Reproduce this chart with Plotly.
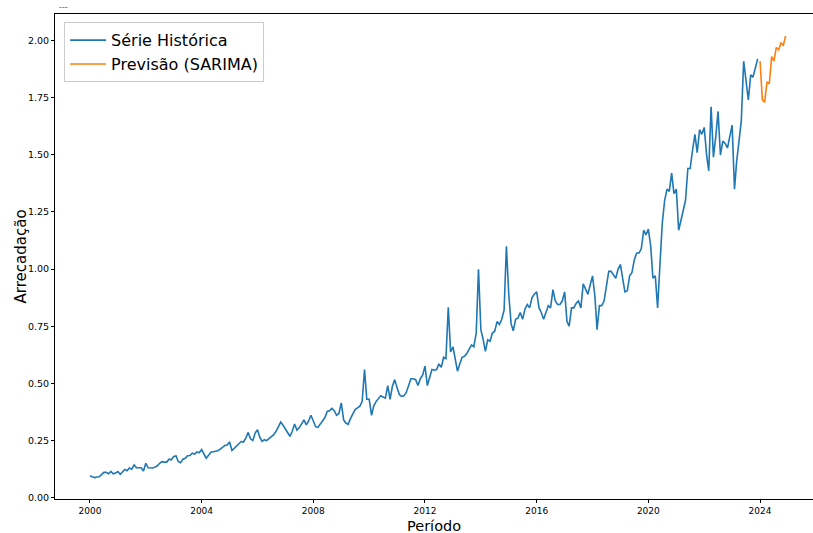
import pandas as pd
import plotly.graph_objects as go

# Monthly historical series (Jan 2000 - Dec 2023), one list per year
y2000 = [0.095, 0.089, 0.087, 0.090, 0.091, 0.100, 0.110, 0.110, 0.104, 0.114, 0.104, 0.107]
y2001 = [0.114, 0.102, 0.110, 0.123, 0.117, 0.129, 0.124, 0.143, 0.130, 0.129, 0.130, 0.116]
y2002 = [0.150, 0.130, 0.129, 0.129, 0.133, 0.139, 0.150, 0.157, 0.155, 0.155, 0.168, 0.165]
y2003 = [0.180, 0.182, 0.158, 0.152, 0.168, 0.172, 0.183, 0.184, 0.194, 0.190, 0.200, 0.196]
y2004 = [0.210, 0.190, 0.172, 0.185, 0.198, 0.200, 0.201, 0.205, 0.212, 0.218, 0.228, 0.230]
y2005 = [0.243, 0.206, 0.216, 0.224, 0.236, 0.245, 0.243, 0.260, 0.285, 0.257, 0.250, 0.282]
y2006 = [0.297, 0.263, 0.246, 0.253, 0.249, 0.257, 0.268, 0.275, 0.290, 0.310, 0.330, 0.316]
y2007 = [0.300, 0.280, 0.268, 0.290, 0.322, 0.295, 0.305, 0.322, 0.340, 0.318, 0.335, 0.360]
y2008 = [0.330, 0.310, 0.307, 0.320, 0.335, 0.350, 0.377, 0.380, 0.390, 0.380, 0.360, 0.368]
y2009 = [0.414, 0.340, 0.326, 0.320, 0.345, 0.367, 0.385, 0.392, 0.400, 0.420, 0.560, 0.430]
y2010 = [0.430, 0.360, 0.400, 0.420, 0.430, 0.445, 0.440, 0.435, 0.490, 0.430, 0.487, 0.516]
y2011 = [0.480, 0.450, 0.443, 0.445, 0.460, 0.490, 0.520, 0.520, 0.516, 0.490, 0.520, 0.535]
y2012 = [0.575, 0.490, 0.530, 0.560, 0.557, 0.560, 0.585, 0.570, 0.614, 0.608, 0.833, 0.637]
y2013 = [0.660, 0.596, 0.553, 0.585, 0.614, 0.618, 0.630, 0.650, 0.668, 0.660, 0.720, 0.999]
y2014 = [0.735, 0.690, 0.640, 0.690, 0.684, 0.720, 0.728, 0.770, 0.757, 0.780, 0.820, 1.100]
y2015 = [0.890, 0.760, 0.730, 0.780, 0.785, 0.810, 0.780, 0.825, 0.845, 0.830, 0.875, 0.890]
y2016 = [0.900, 0.830, 0.810, 0.780, 0.810, 0.840, 0.830, 0.910, 0.860, 0.845, 0.845, 0.860]
y2017 = [0.900, 0.770, 0.750, 0.830, 0.830, 0.850, 0.860, 0.830, 0.935, 0.910, 0.890, 0.930]
y2018 = [0.970, 0.880, 0.735, 0.840, 0.840, 0.860, 0.930, 0.990, 0.990, 0.975, 0.960, 1.000]
y2019 = [1.020, 0.955, 0.900, 0.905, 0.970, 0.985, 1.040, 1.070, 1.070, 1.090, 1.170, 1.150]
y2020 = [1.175, 1.100, 0.960, 0.970, 0.830, 1.020, 1.200, 1.300, 1.350, 1.340, 1.420, 1.330]
y2021 = [1.350, 1.170, 1.210, 1.250, 1.300, 1.440, 1.440, 1.520, 1.590, 1.510, 1.610, 1.590]
y2022 = [1.620, 1.500, 1.430, 1.710, 1.490, 1.580, 1.690, 1.500, 1.560, 1.550, 1.530, 1.580]
y2023 = [1.630, 1.350, 1.470, 1.560, 1.650, 1.910, 1.820, 1.740, 1.850, 1.840, 1.880, 1.920]

# SARIMA forecast (Jan 2024 - Dec 2024)
forecast = [1.910, 1.740, 1.730, 1.820, 1.810, 1.930, 1.910, 1.970, 1.960, 1.990, 1.980, 2.020]

year_tick_labels = ["2000", "2004", "2008", "2012", "2016", "2020", "2024"]
y_tick_values = [0.00, 0.25, 0.50, 0.75, 1.00, 1.25, 1.50, 1.75, 2.00]

historical = (y2000 + y2001 + y2002 + y2003 + y2004 + y2005 + y2006 + y2007 + y2008
              + y2009 + y2010 + y2011 + y2012 + y2013 + y2014 + y2015 + y2016
              + y2017 + y2018 + y2019 + y2020 + y2021 + y2022 + y2023)
hist_dates = pd.date_range("2000-01-01", periods=len(historical), freq="MS")
fc_dates = pd.date_range("2024-01-01", periods=len(forecast), freq="MS")

fig = go.Figure()
fig.add_trace(go.Scatter(x=hist_dates, y=historical, mode="lines", name="Série Histórica",
                         line=dict(color="#1f77b4", width=1.6)))
fig.add_trace(go.Scatter(x=fc_dates, y=forecast, mode="lines", name="Previsão (SARIMA)",
                         line=dict(color="#ff7f0e", width=1.6)))

fig.update_layout(
    width=813, height=533,
    margin=dict(l=55, r=0, t=14, b=34, autoexpand=False),
    paper_bgcolor="white", plot_bgcolor="white",
    font=dict(family="DejaVu Sans", color="black", size=10),
    showlegend=True,
    legend=dict(x=0.012, y=0.983, xanchor="left", yanchor="top",
                bgcolor="rgba(255,255,255,0.9)", bordercolor="#cccccc", borderwidth=1,
                font=dict(size=16, family="DejaVu Sans"), itemwidth=36,
                tracegroupgap=2),
    xaxis=dict(
        type="date",
        range=["1998-10-01", "2025-11-24"],
        tickvals=[f"{y}-01-01" for y in year_tick_labels],
        ticktext=year_tick_labels,
        showgrid=False, zeroline=False,
        showline=True, linecolor="black", linewidth=1, mirror=True,
        ticks="outside", ticklen=3, tickcolor="black",
        tickfont=dict(size=9),
    ),
    yaxis=dict(
        range=[-0.0065, 2.1165],
        tickvals=y_tick_values,
        tickformat=".2f",
        showgrid=False, zeroline=False,
        showline=True, linecolor="black", linewidth=1,
        ticks="outside", ticklen=3, tickcolor="black",
        tickfont=dict(size=9.5),
    ),
)

# Axis titles placed explicitly
fig.add_annotation(text="Período", xref="paper", yref="paper", x=0.5, y=-0.055,
                   xanchor="center", yanchor="middle", showarrow=False,
                   font=dict(size=14.5))
fig.add_annotation(text="Arrecadação", xref="paper", yref="paper", x=-0.045, y=0.5,
                   xanchor="center", yanchor="middle", showarrow=False, textangle=-90,
                   font=dict(size=15))

fig.add_annotation(text="---", xref="paper", yref="paper", x=0.002, y=1.0,
                   xanchor="left", yanchor="bottom", showarrow=False,
                   font=dict(size=8, color="#555555"))

fig.write_html("out.html", config={"displayModeBar": False},
               post_script="document.body.style.margin='0';")
